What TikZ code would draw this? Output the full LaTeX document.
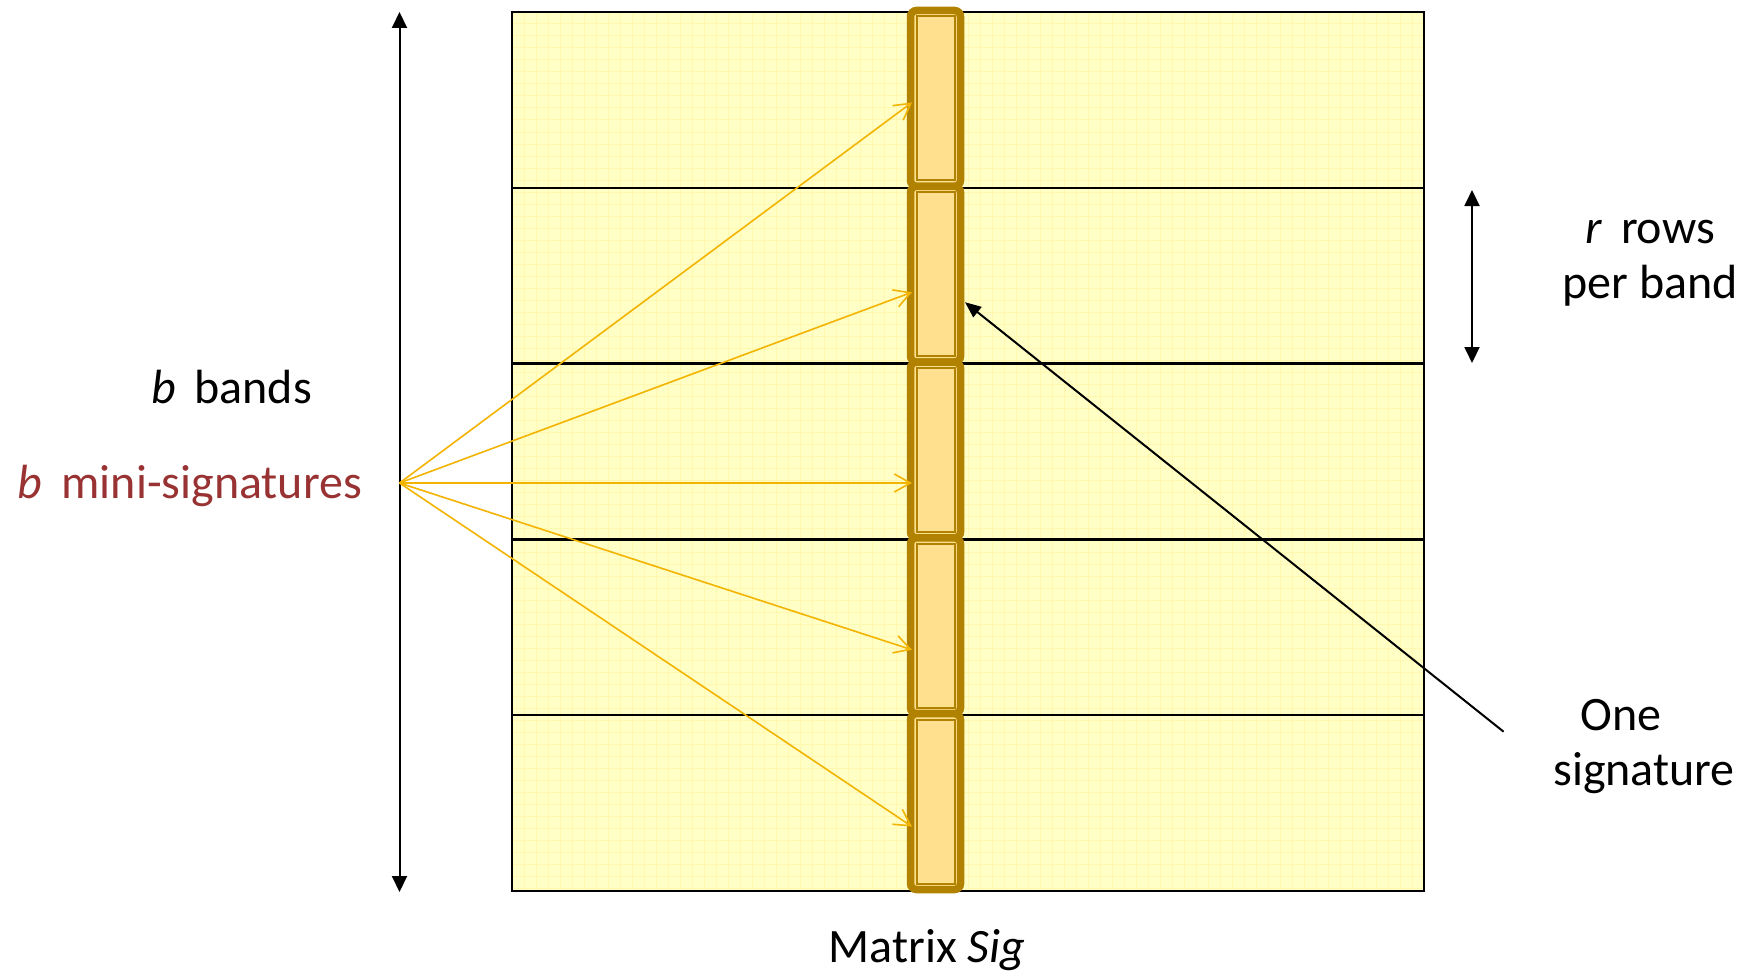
\documentclass[tikz,border=0pt]{standalone}
\usepackage{fontspec}
\setmainfont{Carlito}
\usetikzlibrary{arrows.meta,calc}
\definecolor{sigfill}{HTML}{FFFFC6}
\definecolor{siggrid}{HTML}{FFF8AE}
\definecolor{cellfill}{HTML}{FFE08E}
\definecolor{cellline}{HTML}{B08200}
\definecolor{fanline}{HTML}{F2B400}
\definecolor{minired}{HTML}{993333}
\tikzset{
  lbl/.style={inner sep=0pt, anchor=base, font=\fontsize{24}{29}\selectfont},
  cellbox/.style={draw=cellline, fill=cellfill, line width=3.75pt, rounded corners=3pt,
    minimum width=25pt, minimum height=87.9pt, inner sep=0pt, outer sep=0pt},
  cellinner/.style={draw=cellline, line width=1pt, minimum width=19pt,
    minimum height=81.9pt, inner sep=0pt, outer sep=0pt},
  fanarrow/.style={draw=fanline, line width=0.8pt, -{Straight Barb[length=8pt,width=9pt]}},
  dimarrow/.style={draw=black, line width=1pt, {Triangle[length=8pt,width=7.5pt]}-{Triangle[length=8pt,width=7.5pt]}},
  pointer/.style={draw=black, line width=1pt, -{Triangle[length=8pt,width=6.5pt]}},
  bandline/.style={draw=black, line width=1.25pt},
}
\begin{document}
\begin{tikzpicture}[x=0.5pt,y=-0.5pt]
\useasboundingbox (0,0) rectangle (1749,974);
% matrix
\node[fill=sigfill, minimum width=456pt, minimum height=439.5pt, inner sep=0pt, outer sep=0pt] (M) at (968,451.5) {};
\begin{scope}
  \clip (M.north west) rectangle (M.south east);
  \foreach \gx in {524,536,...,1420} \draw[siggrid, line width=0.5pt] (\gx,12) -- (\gx,891);
  \foreach \gy in {24,36,...,888} \draw[siggrid, line width=0.5pt] (512,\gy) -- (1424,\gy);
\end{scope}
\draw[black, line width=1pt] (M.north west) rectangle (M.south east);
\foreach \k in {1,...,4}
  \draw[bandline] ($(M.north west)!\k/5!(M.south west)$) -- ($(M.north east)!\k/5!(M.south east)$);
% signature column
\foreach \i in {0,...,4} {
  \node[cellbox] (c\i) at (935.5, {98.4+175.8*\i}) {};
  \node[cellinner] (ci\i) at (c\i) {};
}
% dimension arrows
\coordinate (btop) at (399.5,12);
\coordinate (bbot) at (399.5,892);
\draw[dimarrow] (btop) -- (bbot);
\coordinate (rtop) at (1472,190);
\coordinate (rbot) at (1472,363);
\draw[dimarrow] (rtop) -- (rbot);
% fan
\coordinate (fan) at (399.5,483);
\draw[fanarrow] (fan) -- ($(c0.west)+(1.5,4)$);
\draw[fanarrow] (fan) -- ($(c1.west)+(1.5,18)$);
\draw[fanarrow] (fan) -- ($(c2.west)+(1.5,33)$);
\draw[fanarrow] (fan) -- ($(c3.west)+(1.5,24)$);
\draw[fanarrow] (fan) -- ($(c4.west)+(1.5,25)$);
% pointer
\coordinate (ptr) at (1503.6,731.7);
\draw[pointer] (ptr) -- ($(c1.east)+(4.5,28)$);
% labels
\node[lbl] (bands) at (231.5,403) {\textit{b}\,\ bands};
\node[lbl, text=minired] (mini) at (190,498) {\textit{b}\,\ mini-signatures};
\node[lbl] (rrows) at (1650,243) {\textit{r}\,\ rows};
\node[lbl] (perband) at (1650,298) {per band};
\node[lbl] (one) at (1621,730) {One};
\node[lbl] (sig) at (1644,785) {signature};
\node[lbl] (title) at (927,962) {Matrix \textit{Sig}};
\end{tikzpicture}
\end{document}
